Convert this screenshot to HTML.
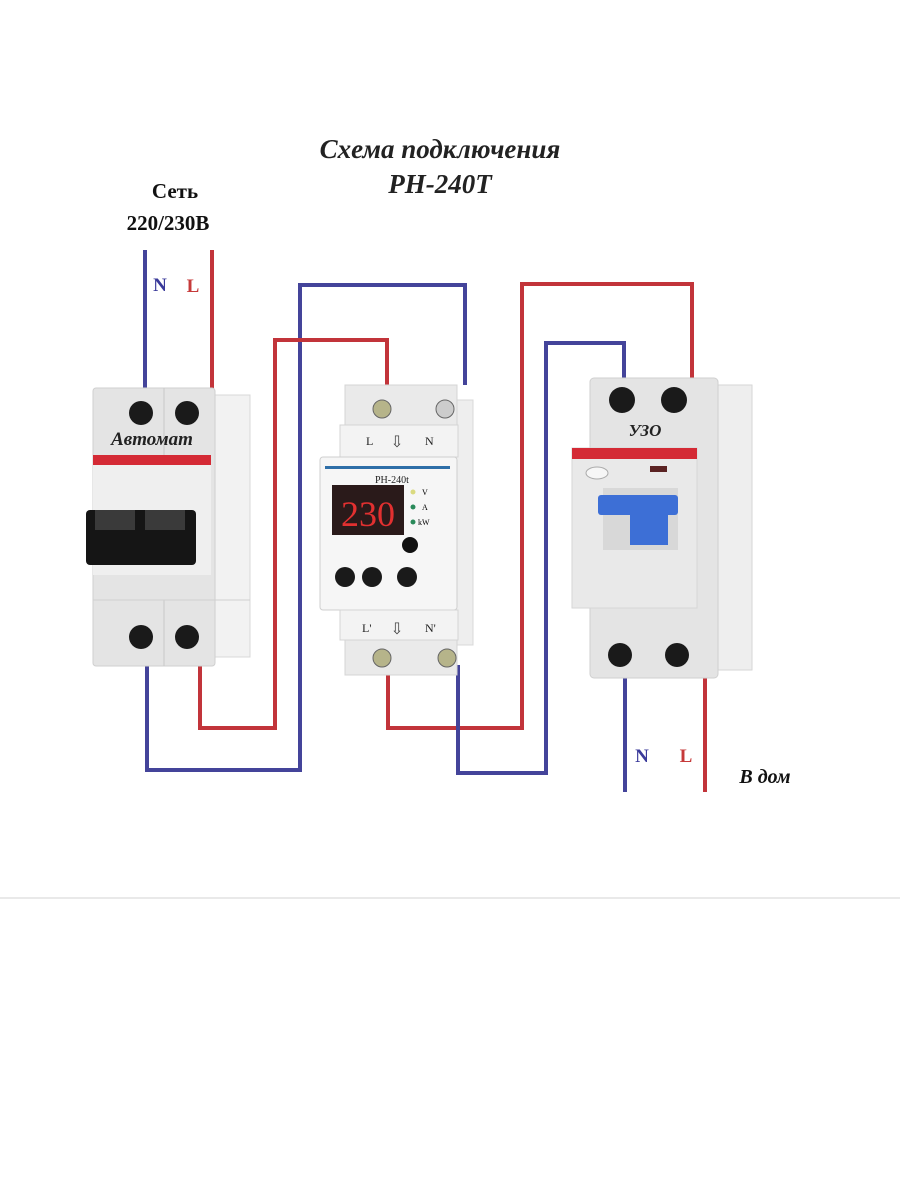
<!DOCTYPE html>
<html><head><meta charset="utf-8"><style>
html,body{margin:0;padding:0;background:#fff}
svg{display:block}
text{font-family:"Liberation Serif","DejaVu Serif",serif}
</style></head><body>
<svg width="900" height="1200" viewBox="0 0 900 1200" xmlns="http://www.w3.org/2000/svg">
<rect width="900" height="1200" fill="#fff"/>
<text x="440" y="158" text-anchor="middle" font-size="27" font-style="italic" font-weight="bold" fill="#222">Схема подключения</text>
<text x="440" y="193" text-anchor="middle" font-size="27" font-style="italic" font-weight="bold" fill="#222">PH-240T</text>
<text x="175" y="198" text-anchor="middle" font-size="21" font-weight="bold" fill="#111">Сеть</text>
<text x="168" y="230" text-anchor="middle" font-size="21" font-weight="bold" fill="#111">220/230В</text>
<text x="160" y="291" text-anchor="middle" font-size="19" font-weight="bold" fill="#3a3a9a" font-family="Liberation Sans">N</text>
<text x="193" y="292" text-anchor="middle" font-size="19" font-weight="bold" fill="#c63a3a" font-family="Liberation Sans">L</text>
<text x="642" y="762" text-anchor="middle" font-size="19" font-weight="bold" fill="#3a3a9a" font-family="Liberation Sans">N</text>
<text x="686" y="762" text-anchor="middle" font-size="19" font-weight="bold" fill="#c63a3a" font-family="Liberation Sans">L</text>
<text x="765" y="783" text-anchor="middle" font-size="20" font-weight="bold" font-style="italic" fill="#111">В дом</text>
<g fill="none" stroke-width="4">
<path d="M145 250V390" stroke="#44449a"/>
<path d="M212 250V390" stroke="#c2343a"/>
<path d="M147 660V770H300V285H465V385" stroke="#44449a"/>
<path d="M200 660V728H275V340H387V385" stroke="#c2343a"/>
<path d="M388 665V728H522V284H692V380" stroke="#c2343a"/>
<path d="M458 665V773H546V343H624V380" stroke="#44449a"/>
<path d="M625 675V792" stroke="#44449a"/>
<path d="M705 675V792" stroke="#c2343a"/>
</g>
<line x1="0" y1="898" x2="900" y2="898" stroke="#e2e2e2" stroke-width="1.5"/>
<!-- breaker -->
<rect x="210" y="395" width="40" height="262" fill="#f2f2f2" stroke="#d8d8d8"/>
<rect x="93" y="388" width="122" height="278" rx="3" fill="#e4e4e4" stroke="#cfcfcf"/>
<rect x="93" y="455" width="118" height="120" fill="#efefef"/>
<line x1="164" y1="388" x2="164" y2="455" stroke="#c8c8c8"/>
<line x1="164" y1="600" x2="164" y2="666" stroke="#c8c8c8"/>
<circle cx="141" cy="413" r="12" fill="#1a1a1a"/><circle cx="187" cy="413" r="12" fill="#1a1a1a"/>
<circle cx="141" cy="637" r="12" fill="#1a1a1a"/><circle cx="187" cy="637" r="12" fill="#1a1a1a"/>
<text x="152" y="445" text-anchor="middle" font-size="19" font-weight="bold" font-style="italic" fill="#222">Автомат</text>
<rect x="93" y="455" width="118" height="10" fill="#d42a35"/>
<rect x="86" y="510" width="110" height="55" rx="4" fill="#151515"/>
<rect x="95" y="510" width="40" height="20" fill="#3a3a3a"/>
<rect x="145" y="510" width="40" height="20" fill="#3a3a3a"/>
<line x1="93" y1="600" x2="250" y2="600" stroke="#d0d0d0"/>
<!-- RN -->
<rect x="455" y="400" width="18" height="245" fill="#eeeeee" stroke="#d8d8d8"/>
<rect x="345" y="385" width="112" height="40" fill="#eaeaea" stroke="#d4d4d4"/>
<rect x="340" y="425" width="118" height="32" fill="#f3f3f3" stroke="#d4d4d4"/>
<circle cx="382" cy="409" r="9" fill="#b6b48a" stroke="#666"/><circle cx="445" cy="409" r="9" fill="#ccc" stroke="#666"/>
<text x="366" y="445" font-size="12" font-family="Liberation Sans" fill="#222">L</text>
<text x="425" y="445" font-size="12" font-family="Liberation Sans" fill="#222">N</text>
<text x="397" y="447" text-anchor="middle" font-size="16" fill="#444">⇩</text>
<rect x="320" y="457" width="137" height="153" rx="3" fill="#f6f6f6" stroke="#cfcfcf"/>
<rect x="325" y="466" width="125" height="3" fill="#2e6fa8"/>
<text x="375" y="483" font-size="10" font-family="Liberation Sans" fill="#222">PH-240t</text>
<rect x="332" y="485" width="72" height="50" fill="#2a1a1a"/>
<text x="368" y="526" text-anchor="middle" font-size="36" font-family="Liberation Mono" fill="#e23030">230</text>
<circle cx="413" cy="492" r="2.5" fill="#dada80"/><circle cx="413" cy="507" r="2.5" fill="#2a8a5a"/><circle cx="413" cy="522" r="2.5" fill="#2a8a5a"/>
<text x="422" y="495" font-size="8" font-family="Liberation Sans">V</text>
<text x="422" y="510" font-size="8" font-family="Liberation Sans">A</text>
<text x="418" y="525" font-size="8" font-family="Liberation Sans">kW</text>
<circle cx="410" cy="545" r="8" fill="#111"/>
<circle cx="345" cy="577" r="10" fill="#1a1a1a"/><circle cx="372" cy="577" r="10" fill="#1a1a1a"/><circle cx="407" cy="577" r="10" fill="#1a1a1a"/>
<rect x="340" y="610" width="118" height="30" fill="#f3f3f3" stroke="#d4d4d4"/>
<rect x="345" y="640" width="112" height="35" fill="#eaeaea" stroke="#d4d4d4"/>
<text x="362" y="632" font-size="12" font-family="Liberation Sans" fill="#222">L'</text>
<text x="425" y="632" font-size="12" font-family="Liberation Sans" fill="#222">N'</text>
<text x="397" y="634" text-anchor="middle" font-size="16" fill="#444">⇩</text>
<circle cx="382" cy="658" r="9" fill="#b6b48a" stroke="#666"/><circle cx="447" cy="658" r="9" fill="#b6b48a" stroke="#666"/>
<!-- UZO -->
<rect x="715" y="385" width="37" height="285" fill="#eeeeee" stroke="#d6d6d6"/>
<rect x="590" y="378" width="128" height="300" rx="4" fill="#e4e4e4" stroke="#cfcfcf"/>
<rect x="572" y="448" width="125" height="160" fill="#e9e9e9" stroke="#d6d6d6"/>
<circle cx="622" cy="400" r="13" fill="#1a1a1a"/><circle cx="674" cy="400" r="13" fill="#1a1a1a"/>
<circle cx="620" cy="655" r="12" fill="#1a1a1a"/><circle cx="677" cy="655" r="12" fill="#1a1a1a"/>
<text x="645" y="436" text-anchor="middle" font-size="17" font-weight="bold" font-style="italic" fill="#222">УЗО</text>
<rect x="572" y="448" width="125" height="11" fill="#d42a35"/>
<ellipse cx="597" cy="473" rx="11" ry="6" fill="#f6f6f6" stroke="#aaa"/>
<rect x="650" y="466" width="17" height="6" fill="#5a2222"/>
<rect x="603" y="488" width="75" height="62" fill="#d8d8d8"/>
<rect x="598" y="495" width="80" height="20" rx="3" fill="#3d6fd6"/>
<rect x="630" y="515" width="38" height="30" fill="#3d6fd6"/>
</svg>
</body></html>
